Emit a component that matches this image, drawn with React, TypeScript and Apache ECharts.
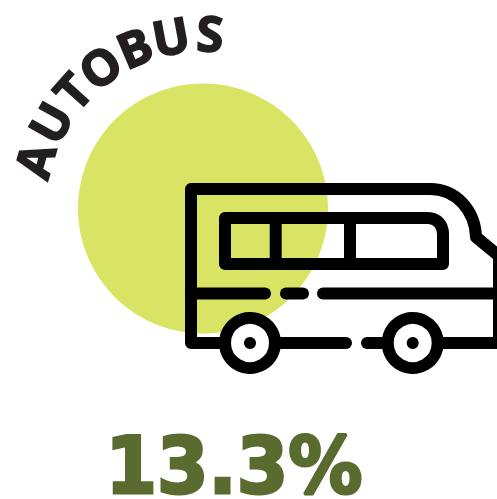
import React, { useEffect, useRef } from "react";
import * as echarts from "echarts";

const title = "AUTOBUS";
const letterAngles = [-74, -60.6, -48, -36, -23, -10.6, 2.3];
const valueLabel = "13.3%";

const CIRCLE = { cx: 203, cy: 208.5, r: 125 };
const TITLE_RADIUS = 176;
const BLACK = "#000000";

const busBody = "M222 343 H191 V189 H430 C456 189 475 210 476 237 L499 256 V343 H441";
const busWindow = "M225 218 H428 C437 218 443 225 443 234 V264 H225 Z";

echarts.graphic.registerShape("busBody", echarts.graphic.extendPath(busBody, {}));
echarts.graphic.registerShape("busWindow", echarts.graphic.extendPath(busWindow, {}));

const stroke = { stroke: BLACK, lineWidth: 12, lineCap: "round", lineJoin: "round", fill: "none" };
const seg = (x1: number, y1: number, x2: number, y2: number) => ({
  type: "line",
  shape: { x1, y1, x2, y2 },
  style: stroke,
});
const wheel = (cx: number, cy: number) => [
  { type: "circle", shape: { cx, cy, r: 25 }, style: { fill: "#ffffff", stroke: BLACK, lineWidth: 12 } },
  { type: "circle", shape: { cx, cy, r: 6 }, style: { fill: BLACK } },
];

export default function App() {
  const ref = useRef<HTMLDivElement>(null);
  useEffect(() => {
    const chart = echarts.init(ref.current!, undefined, { renderer: "svg" });
    const letters = title.split("").map((ch, i) => {
      const a = (letterAngles[i] * Math.PI) / 180;
      return {
        type: "text",
        x: CIRCLE.cx + TITLE_RADIUS * Math.sin(a),
        y: CIRCLE.cy - TITLE_RADIUS * Math.cos(a),
        rotation: -a,
        style: {
          text: ch,
          fill: "#231f20",
          stroke: "#231f20",
          lineWidth: 1.6,
          font: "bold 49px 'Open Sans'",
          align: "center",
          verticalAlign: "middle",
          lineHeight: 49,
        },
      };
    });
    chart.setOption({
      animation: false,
      graphic: [
        { type: "circle", shape: { cx: CIRCLE.cx, cy: CIRCLE.cy, r: CIRCLE.r }, style: { fill: "#d9e364" } },
        ...letters,
        { type: "busBody", style: stroke },
        { type: "busWindow", style: stroke },
        seg(275.7, 218, 275.7, 264),
        seg(350, 218, 350, 264),
        seg(191, 293.5, 265, 293.5),
        seg(286, 293.5, 303, 293.5),
        seg(323, 293.5, 497, 293.5),
        seg(280, 343, 346, 343),
        seg(367, 343, 385, 343),
        ...wheel(250, 343),
        ...wheel(412.7, 343),
        {
          type: "text",
          x: 234,
          y: 466,
          scaleX: 0.95,
          style: {
            text: valueLabel,
            fill: "#5a6b2f",
            stroke: "#5a6b2f",
            lineWidth: 3,
            font: "bold 78px 'DejaVu Sans'",
            align: "center",
            verticalAlign: "middle",
            lineHeight: 60,
          },
        },
      ],
    });
    return () => chart.dispose();
  }, []);
  return <div ref={ref} style={{ position: "absolute", left: 0, top: 0, width: 497, height: 499 }} />;
}
